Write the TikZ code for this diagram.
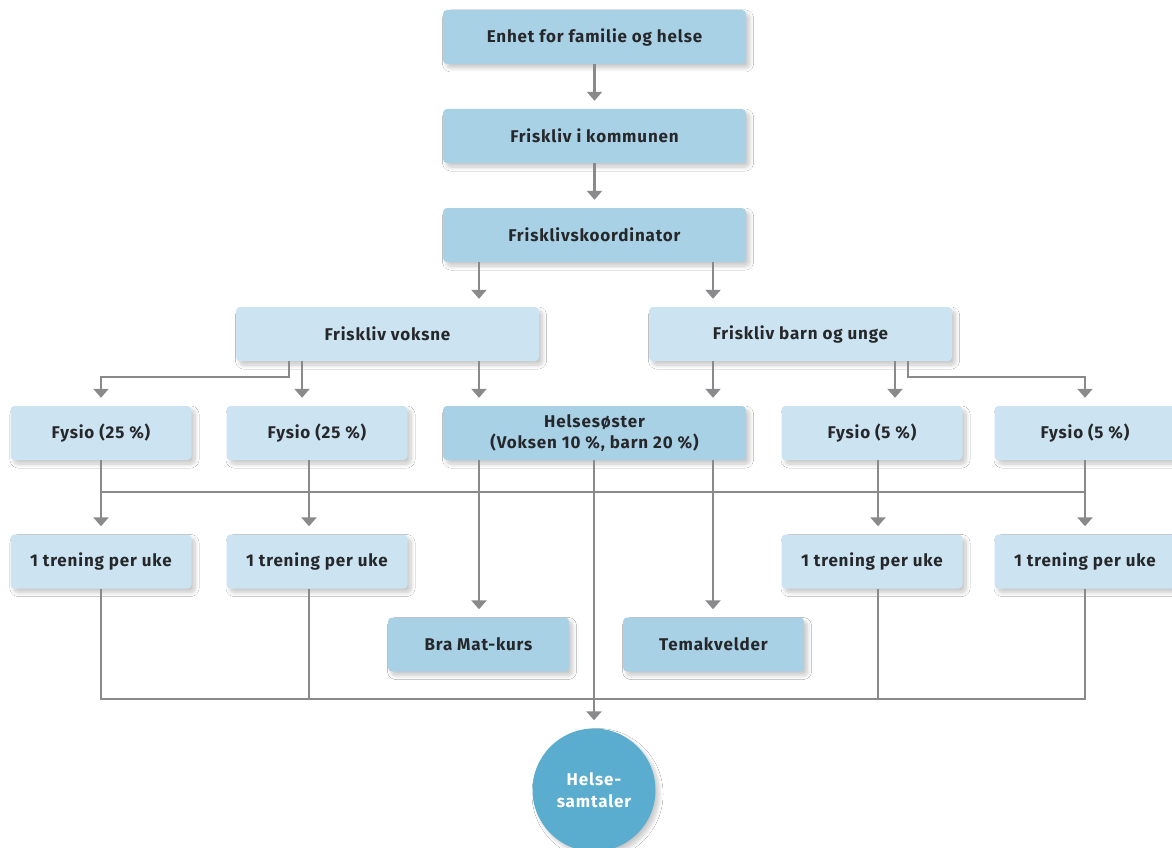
\documentclass[tikz,border=0pt]{standalone}
\usepackage{fontspec}
\setmainfont{Fira Sans}[LetterSpace=5]
\usetikzlibrary{arrows.meta,shadows.blur}
\definecolor{boxmid}{HTML}{A9D1E6}
\definecolor{boxlight}{HTML}{CCE4F1}
\definecolor{disc}{HTML}{5AADCF}
\definecolor{linkgray}{HTML}{8A898C}
\definecolor{ink}{HTML}{26272B}
\tikzset{
  softshadow/.style={blur shadow={shadow xshift=3.5pt, shadow yshift=-4pt,
    shadow blur radius=4pt, shadow blur steps=10, shadow opacity=22}},
  card/.style={rectangle, rounded corners=4pt, inner sep=0pt, minimum height=54pt,
    align=center, text=ink, font=\bfseries\fontsize{17}{21}\selectfont, softshadow},
  wide/.style={card, minimum width=303pt},
  narrow/.style={card, minimum width=181pt},
  mid/.style={fill=boxmid},
  light/.style={fill=boxlight},
  wire/.style={draw=linkgray, line width=2.4pt},
  arr/.style={wire, -{Triangle[width=15pt,length=9pt]}, shorten >=8pt},
}
\begin{document}
\begin{tikzpicture}[x=1pt,y=-1pt]
\useasboundingbox (0,0) rectangle (1172,848);
\clip (0,0) rectangle (1172,848);
\fill[white] (0,0) rectangle (1172,848);

% column and row guides
\coordinate (vA) at (289,0);
\coordinate (vB) at (302,0);
\coordinate (cL) at (479,0);
\coordinate (cR) at (713,0);
\coordinate (bA) at (895,0);
\coordinate (bB) at (908,0);
\coordinate (k2) at (309,0);
\coordinate (k3) at (878,0);
\coordinate (bendrow) at (0,377);
\coordinate (barrow) at (0,492);
\coordinate (baserow) at (0,699);

% boxes
\node[wide, mid] (enhet) at (594.5,37) {Enhet for familie og helse};
\node[wide, mid] (kommune) at (594.5,136) {Friskliv i kommunen};
\node[wide, mid] (koord) at (594.5,235) {Frisklivskoordinator};
\node[wide, light] (voksne) at (387.5,334) {Friskliv voksne};
\node[wide, light] (barn) at (800.5,334) {Friskliv barn og unge};

\node[narrow, light] (f1) at (101,433) {Fysio (25 \%)};
\node[narrow, light] (f2) at (317,433) {Fysio (25 \%)};
\node[wide, mid] (hs) at (594.5,433) {Helsesøster\\(Voksen 10 \%, barn 20 \%)};
\node[narrow, light] (f3) at (872,433) {Fysio (5 \%)};
\node[narrow, light] (f4) at (1085,433) {Fysio (5 \%)};

\node[narrow, light] (t1) at (101,561.5) {1 trening per uke};
\node[narrow, light] (t2) at (317,561.5) {1 trening per uke};
\node[narrow, light] (t3) at (872,561.5) {1 trening per uke};
\node[narrow, light] (t4) at (1085,561.5) {1 trening per uke};

\node[narrow, mid] (mat) at (478.5,644.5) {Bra Mat-kurs};
\node[narrow, mid] (tema) at (713.5,644.5) {Temakvelder};

\node[circle, fill=disc, minimum size=123pt, inner sep=0pt, align=center, text=white,
  font=\bfseries\fontsize{17}{22}\selectfont, softshadow]
  (helse) at (594,790) {Helse-\\samtaler};

% top chain
\draw[arr] (enhet.south) -- (kommune.north);
\draw[arr] (kommune.south) -- (koord.north);
\draw[arr] (koord.south -| cL) -- (voksne.north -| cL);
\draw[arr] (koord.south -| cR) -- (barn.north -| cR);

% Friskliv voksne
\draw[arr] (voksne.south -| vA) |- (f1.north |- bendrow) -- (f1.north);
\draw[arr] (voksne.south -| vB) -- (f2.north -| vB);
\draw[arr] (voksne.south -| cL) -- (hs.north -| cL);

% Friskliv barn og unge
\draw[arr] (barn.south -| cR) -- (hs.north -| cR);
\draw[arr] (barn.south -| bA) -- (f3.north -| bA);
\draw[arr] (barn.south -| bB) |- (f4.north |- bendrow) -- (f4.north);

% Fysio to training, through the common bar
\draw[wire] (f1.south |- barrow) -- (f4.south |- barrow);
\draw[arr] (f1.south) -- (t1.north);
\draw[arr] (f2.south -| k2) -- (t2.north -| k2);
\draw[arr] (f3.south -| k3) -- (t3.north -| k3);
\draw[arr] (f4.south) -- (t4.north);

% Helsesøster outputs
\draw[arr] (hs.south -| cL) -- (mat.north -| cL);
\draw[arr] (hs.south -| cR) -- (tema.north -| cR);
\draw[arr] (hs.south -| helse) -- (helse.north);

% training to Helsesamtaler
\draw[wire] (t1.south) -- (t1.south |- baserow) -- (t4.south |- baserow) -- (t4.south);
\draw[wire] (t2.south -| k2) -- (baserow -| k2);
\draw[wire] (t3.south -| k3) -- (baserow -| k3);
\end{tikzpicture}
\end{document}
